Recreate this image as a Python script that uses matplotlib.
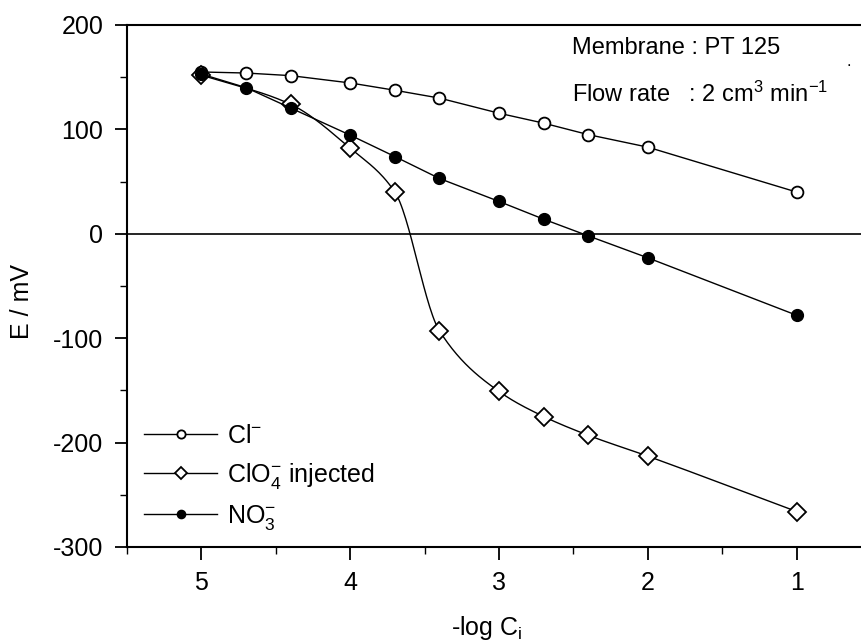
import matplotlib
matplotlib.use("Agg")
import matplotlib.pyplot as plt
import numpy as np
from matplotlib.ticker import MultipleLocator

plt.rcParams['font.family'] = ['Liberation Sans', 'DejaVu Sans']
plt.rcParams['mathtext.fontset'] = 'custom'
plt.rcParams['mathtext.rm'] = 'Liberation Sans'
plt.rcParams['mathtext.it'] = 'Liberation Sans:italic'
plt.rcParams['axes.unicode_minus'] = False
plt.rcParams['font.size'] = 18

# -log C values and potentials (mV)
x_cl = [5, 4.7, 4.4, 4, 3.7, 3.4, 3, 2.7, 2.4, 2, 1]
e_cl = [155, 154, 151.5, 144.5, 137.5, 130, 115.5, 106, 95, 83, 40]

x_clo4 = [5, 4.4, 4, 3.7, 3.4, 3, 2.7, 2.4, 2, 1]
e_clo4 = [152, 124, 82, 40, -93, -151, -175, -193, -213, -266]

x_no3 = [5, 4.7, 4.4, 4, 3.7, 3.4, 3, 2.7, 2.4, 2, 1]
e_no3 = [153, 140, 120.5, 94.5, 74, 53, 31, 14, -2, -23, -78]

labels = ["Cl$^{-}$", "ClO$_4^{-}$ injected", "NO$_3^{-}$"]


def pchip(x, y, xs):
    """monotone cubic curve through the points (x ascending)"""
    x = np.asarray(x, float)
    y = np.asarray(y, float)
    h = np.diff(x)
    d = np.diff(y) / h
    m = np.zeros_like(y)
    for k in range(1, len(x) - 1):
        if d[k - 1] * d[k] > 0:
            w1 = 2 * h[k] + h[k - 1]
            w2 = h[k] + 2 * h[k - 1]
            m[k] = (w1 + w2) / (w1 / d[k - 1] + w2 / d[k])
    m[0] = d[0]
    m[-1] = d[-1]
    idx = np.clip(np.searchsorted(x, xs) - 1, 0, len(x) - 2)
    t = (xs - x[idx]) / h[idx]
    h00 = 2 * t**3 - 3 * t**2 + 1
    h10 = t**3 - 2 * t**2 + t
    h01 = -2 * t**3 + 3 * t**2
    h11 = t**3 - t**2
    return h00 * y[idx] + h10 * h[idx] * m[idx] + h01 * y[idx + 1] + h11 * h[idx] * m[idx + 1]


fig = plt.figure(figsize=(8.62, 6.44), dpi=100)
ax = fig.add_axes([127 / 862, 97 / 644, 744 / 862, 522 / 644])

ax.axhline(0, color='black', lw=1.2, zorder=1)

# Cl-
ax.plot(x_cl, e_cl, '-', color='black', lw=1.0, marker='o', ms=8.5,
        mfc='white', mec='black', mew=1.3, label=labels[0], zorder=3)

# ClO4- : smooth line through the points
xa = np.array(x_clo4[::-1], float)
ya = np.array(e_clo4[::-1], float)
xs = np.linspace(xa[0], xa[-1], 400)
ax.plot(xs, pchip(xa, ya, xs), '-', color='black', lw=1.0, zorder=2)
ax.plot(x_clo4, e_clo4, ls='none', marker='D', ms=9, mfc='white', mec='black',
        mew=1.3, zorder=3)
h_clo4, = ax.plot([], [], '-', color='black', lw=1.0, marker='D', ms=9,
                  mfc='white', mec='black', mew=1.3)

# NO3-
ax.plot(x_no3, e_no3, '-', color='black', lw=1.0, marker='o', ms=8.5,
        mfc='black', mec='black', label=labels[2], zorder=4)

ax.set_xlim(5.5, 0.5)
ax.set_ylim(-300, 200)
ax.xaxis.set_major_locator(MultipleLocator(1))
ax.xaxis.set_minor_locator(MultipleLocator(0.5))
ax.yaxis.set_major_locator(MultipleLocator(100))
ax.yaxis.set_minor_locator(MultipleLocator(50))
ax.tick_params(which='major', direction='out', length=9, width=1.3, pad=8)
ax.tick_params(which='minor', direction='out', length=5, width=1.0)
ax.tick_params(top=False, right=False)
for s in ax.spines.values():
    s.set_linewidth(1.5)

fig.text(487 / 862, 1 - 628 / 644, "-log C$_\\mathrm{i}$", ha='center', va='center')
fig.text(22 / 862, 1 - 301 / 644, "E / mV", rotation=90, ha='center', va='center')

hs, ls = ax.get_legend_handles_labels()
leg = ax.legend([hs[0], h_clo4, hs[1]], labels, loc='lower left',
                bbox_to_anchor=(0.0, -0.005), frameon=False, markerscale=0.7,
                handlelength=2.9, handletextpad=0.4, labelspacing=0.5,
                borderaxespad=0.3)

ax.text(0.598, 0.955, "Membrane : PT 125", transform=ax.transAxes,
        ha='left', va='center', fontsize=17)
ax.text(0.598, 0.868, "Flow rate   : 2 cm$^3$ min$^{-1}$", transform=ax.transAxes,
        ha='left', va='center', fontsize=17)
ax.text(0.97, 0.93, ".", transform=ax.transAxes, ha='center', va='center',
        fontsize=12)

fig.savefig("out.png", dpi=100)
